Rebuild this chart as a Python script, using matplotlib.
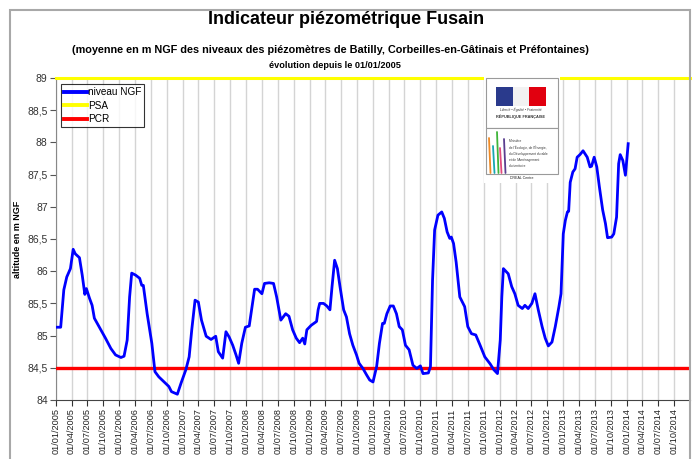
import matplotlib
matplotlib.use("Agg")
import matplotlib.pyplot as plt
import matplotlib.dates as mdates
import matplotlib.ticker as mticker
from matplotlib.patches import Rectangle
import pandas as pd

# ---------------- data ----------------
dates = [
    "2005-01-01", "2005-01-28", "2005-02-15", "2005-03-04", "2005-03-25", "2005-04-10",
    "2005-04-22", "2005-05-16", "2005-06-01", "2005-06-16", "2005-06-25", "2005-07-13",
    "2005-07-28", "2005-08-10", "2005-09-16", "2005-10-13", "2005-11-13", "2005-12-10",
    "2006-01-10", "2006-01-28", "2006-02-15", "2006-03-01", "2006-03-13", "2006-04-04",
    "2006-04-28", "2006-05-10", "2006-05-19", "2006-06-10", "2006-07-07", "2006-07-25",
    "2006-08-16", "2006-09-16", "2006-10-13", "2006-10-28", "2006-12-01", "2006-12-22",
    "2007-01-19", "2007-02-07", "2007-02-22", "2007-03-13", "2007-04-01", "2007-04-19",
    "2007-05-04", "2007-05-16", "2007-06-13", "2007-07-10", "2007-07-25", "2007-08-19",
    "2007-09-07", "2007-09-25", "2007-10-16", "2007-11-04", "2007-11-19", "2007-12-07",
    "2007-12-28", "2008-01-19", "2008-02-04", "2008-02-19", "2008-03-07", "2008-04-01",
    "2008-04-16", "2008-05-13", "2008-06-07", "2008-06-25", "2008-07-19", "2008-08-16",
    "2008-09-04", "2008-09-25", "2008-10-16", "2008-11-04", "2008-11-22", "2008-12-04",
    "2008-12-16", "2009-01-10", "2009-02-10", "2009-02-19", "2009-02-28", "2009-03-22",
    "2009-04-10", "2009-04-28", "2009-05-10", "2009-05-25", "2009-06-10", "2009-06-25",
    "2009-07-16", "2009-08-01", "2009-08-19", "2009-09-07", "2009-09-28", "2009-10-13",
    "2009-11-04", "2009-11-25", "2009-12-13", "2010-01-01", "2010-01-22", "2010-02-07",
    "2010-02-25", "2010-03-07", "2010-03-22", "2010-04-10", "2010-04-28", "2010-05-16",
    "2010-06-01", "2010-06-19", "2010-07-07", "2010-07-28", "2010-08-19", "2010-09-10",
    "2010-10-01", "2010-10-16", "2010-11-16", "2010-11-28", "2010-12-10", "2010-12-22",
    "2011-01-10", "2011-02-01", "2011-02-16", "2011-03-04", "2011-03-19", "2011-03-28",
    "2011-04-10", "2011-04-25", "2011-05-16", "2011-06-13", "2011-07-01", "2011-07-22",
    "2011-08-16", "2011-09-10", "2011-10-07", "2011-11-07", "2011-11-28", "2011-12-19",
    "2012-01-04", "2012-01-13", "2012-01-22", "2012-02-19", "2012-03-10", "2012-03-28",
    "2012-04-16", "2012-05-10", "2012-05-25", "2012-06-13", "2012-07-04", "2012-07-22",
    "2012-08-10", "2012-09-01", "2012-09-19", "2012-10-07", "2012-10-28", "2012-11-16",
    "2012-12-07", "2012-12-19", "2013-01-01", "2013-01-13", "2013-01-25", "2013-02-01",
    "2013-02-10", "2013-02-25", "2013-03-10", "2013-03-22", "2013-04-07", "2013-04-25",
    "2013-05-19", "2013-06-04", "2013-06-13", "2013-06-28", "2013-07-13", "2013-07-28",
    "2013-08-16", "2013-09-01", "2013-09-13", "2013-10-07", "2013-10-19", "2013-11-04",
    "2013-11-16", "2013-11-25", "2013-12-10", "2013-12-25", "2014-01-10",
]
niveau_ngf = [
    85.13, 85.13, 85.71, 85.91, 86.04, 86.34,
    86.27, 86.21, 85.94, 85.64, 85.73, 85.58,
    85.47, 85.27, 85.09, 84.96, 84.80, 84.70,
    84.66, 84.68, 84.93, 85.60, 85.97, 85.94,
    85.89, 85.78, 85.78, 85.34, 84.88, 84.44,
    84.36, 84.28, 84.21, 84.13, 84.09, 84.26,
    84.47, 84.67, 85.09, 85.55, 85.52, 85.24,
    85.10, 84.99, 84.94, 84.99, 84.75, 84.65,
    85.06, 84.98, 84.85, 84.70, 84.57, 84.88,
    85.13, 85.15, 85.45, 85.72, 85.72, 85.65,
    85.81, 85.82, 85.81, 85.60, 85.24, 85.34,
    85.30, 85.09, 84.96, 84.89, 84.96, 84.87,
    85.09, 85.16, 85.22, 85.40, 85.50, 85.50,
    85.46, 85.40, 85.76, 86.17, 86.04, 85.76,
    85.40, 85.29, 85.03, 84.85, 84.70, 84.57,
    84.49, 84.39, 84.31, 84.28, 84.52, 84.88,
    85.19, 85.19, 85.34, 85.46, 85.46, 85.34,
    85.14, 85.09, 84.85, 84.78, 84.54, 84.49,
    84.53, 84.41, 84.42, 84.52, 85.86, 86.64,
    86.87, 86.92, 86.82, 86.61, 86.51, 86.53,
    86.43, 86.14, 85.60, 85.45, 85.14, 85.03,
    85.01, 84.85, 84.67, 84.56, 84.47, 84.41,
    84.93, 85.60, 86.04, 85.96, 85.76, 85.65,
    85.47, 85.42, 85.47, 85.42, 85.50, 85.65,
    85.40, 85.14, 84.96, 84.84, 84.90, 85.14,
    85.45, 85.65, 86.58, 86.79, 86.92, 86.93,
    87.38, 87.54, 87.59, 87.77, 87.81, 87.87,
    87.77, 87.62, 87.63, 87.77, 87.62, 87.31,
    86.95, 86.74, 86.52, 86.53, 86.58, 86.84,
    87.67, 87.81, 87.72, 87.49, 87.98,
]
psa_level = 89.0
pcr_level = 84.5
x_start, x_end = "2005-01-01", "2015-01-01"
title = "Indicateur piézométrique Fusain"
subtitle = "(moyenne en m NGF des niveaux des piézomètres de Batilly, Corbeilles-en-Gâtinais et Préfontaines)"
subtitle2 = "évolution depuis le 01/01/2005"
ylabel = "altitude en m NGF"
legend_labels = ["niveau NGF", "PSA", "PCR"]

# ---------------- figure ----------------
W, H = 695, 459
plt.rcParams['font.family'] = ['Liberation Sans', 'DejaVu Sans']
fig = plt.figure(figsize=(W / 100, H / 100), dpi=100)
fig.patch.set_facecolor("white")

def fx(px):
    return px / W

def fy(py):
    return 1 - py / H

# outer chart border
fig.patches.append(Rectangle((fx(10), fy(470)), fx(680), (470 - 10) / H,
                             transform=fig.transFigure, fill=False,
                             edgecolor="#a8a8a8", linewidth=1.5, zorder=0))

left, right, top, bottom = 56, 690, 78, 400
ax = fig.add_axes([fx(left), fy(bottom), fx(right - left), (bottom - top) / H])
ax.set_facecolor("white")

d = pd.to_datetime(dates)
ax.plot(d, niveau_ngf, color="#0000ff", linewidth=2.0, zorder=4, label=legend_labels[0])
ax.axhline(psa_level, color="#ffff00", linewidth=2.2, zorder=3, clip_on=False, label=legend_labels[1])
ax.axhline(pcr_level, color="#ff0000", linewidth=2.4, zorder=3, label=legend_labels[2])

ax.set_xlim(pd.Timestamp(x_start), pd.Timestamp(x_end))
ax.set_ylim(84, 89)

ticks = pd.date_range("2005-01-01", "2014-10-01", freq="3MS")
ax.set_xticks(ticks)
ax.xaxis.set_major_formatter(mdates.DateFormatter("%d/%m/%Y"))
ax.yaxis.set_major_locator(mticker.MultipleLocator(0.5))
ax.yaxis.set_major_formatter(mticker.FuncFormatter(
    lambda v, p: ("%g" % v).replace(".", ",")))
ax.tick_params(axis="x", labelrotation=90, labelsize=6.6, length=4, width=0.8,
               color="#333333", labelcolor="#222222", pad=2)
ax.tick_params(axis="y", labelsize=7.5, length=4, width=0.8, color="#555555",
               labelcolor="#333333", pad=2)
ax.grid(axis="x", color="#d4d4d4", linewidth=1.0, zorder=0)
ax.set_axisbelow(True)
for s in ("top", "right"):
    ax.spines[s].set_visible(False)
ax.spines["left"].set_color("#888888")
ax.spines["bottom"].set_color("#444444")

ax.set_ylabel(ylabel, fontsize=6.5, fontweight="bold")
ax.yaxis.set_label_coords((22 - left) / (right - left), 0.5)

leg = ax.legend(loc="upper left", bbox_to_anchor=((61 - left) / (right - left), 1 - 6 / (bottom - top)),
                fontsize=7.2, frameon=True, fancybox=False, borderpad=0.3,
                handlelength=2.3, handletextpad=0.1, labelspacing=0.35, borderaxespad=0)
leg.get_frame().set_edgecolor("black")
leg.get_frame().set_linewidth(0.8)
for h in leg.get_lines():
    h.set_linewidth(2.8)

# titles
fig.text(fx(346), fy(19), title, ha="center", va="center", fontsize=13, fontweight="bold")
fig.text(fx(330), fy(50), subtitle, ha="center", va="center", fontsize=7.8, fontweight="bold")
fig.text(fx(335), fy(65), subtitle2, ha="center", va="center", fontsize=6.6, fontweight="bold")

# logo block
lg = fig.add_axes([fx(484), fy(183), fx(76), (183 - 76) / H])
lg.set_xlim(0, 76)
lg.set_ylim(107, 0)
lg.axis("off")
lg.add_patch(Rectangle((0, 0), 76, 107, facecolor="white", edgecolor="none"))
lg.add_patch(Rectangle((2, 2), 72, 50, facecolor="white", edgecolor="#9a9a9a", linewidth=0.8))
lg.add_patch(Rectangle((2, 52), 72, 46, facecolor="white", edgecolor="#9a9a9a", linewidth=0.8))
lg.add_patch(Rectangle((12, 11), 17, 19, facecolor="#2a3a8c", edgecolor="none"))
lg.add_patch(Rectangle((29, 11), 16, 19, facecolor="#f2f2f2", edgecolor="none"))
lg.add_patch(Rectangle((45, 11), 17, 19, facecolor="#e1000f", edgecolor="none"))
lg.text(37, 34, "Liberté • Égalité • Fraternité", ha="center", va="center", fontsize=2.4,
        style="italic", color="#333333")
lg.text(37, 41, "RÉPUBLIQUE FRANÇAISE", ha="center", va="center", fontsize=2.8,
        fontweight="bold", color="#333333")
bar_cols = ["#f08a24", "#19a7b0", "#3fb43a", "#e34b7d", "#5a3e8f"]
bar_x = [5, 9, 13, 16, 20]
bar_top = [62, 70, 56, 72, 63]
for c, bx, bt in zip(bar_cols, bar_x, bar_top):
    lg.plot([bx, bx + 1.5], [bt, 97], color=c, linewidth=1.3, solid_capstyle="round")
ministry = ["Ministère", "de l'Écologie, de l'Énergie,", "du Développement durable",
            "et de l'Aménagement", "du territoire"]
for i, t in enumerate(ministry):
    lg.text(25, 65 + i * 6.3, t, ha="left", va="center", fontsize=2.3, color="#333333")
lg.text(38, 102, "DREAL Centre", ha="center", va="center", fontsize=2.6, color="#222222")

fig.savefig("out.png", dpi=100)
